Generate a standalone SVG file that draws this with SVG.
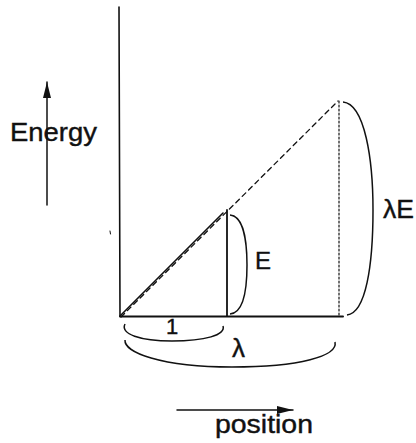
<svg xmlns="http://www.w3.org/2000/svg" width="416" height="443" viewBox="0 0 416 443">
<style>
.ln{stroke:#111;fill:none;stroke-linecap:round}
.br{stroke:#111;fill:none;stroke-width:1.5}
.t{font-family:"Liberation Sans",Arial,Helvetica,sans-serif;fill:#111;stroke:#111;stroke-width:0.4}
</style>
<defs>
<marker id="ah" viewBox="0 0 16 8" refX="16" refY="4" markerWidth="16" markerHeight="8" markerUnits="userSpaceOnUse" orient="auto">
<path d="M0,0 L16,4 L0,8 Z" fill="#111"/>
</marker>
</defs>
<rect width="416" height="443" fill="#fff"/>
<g id="connectors">
<line id="y-axis" class="ln" x1="119" y1="7" x2="120" y2="316" stroke-width="1.6"/>
<line id="x-axis" class="ln" x1="120" y1="316.5" x2="343" y2="316.5" stroke-width="2"/>
<line id="diag-solid" class="ln" x1="120" y1="316" x2="223" y2="213" stroke-width="1.6"/>
<line id="diag-dashed" class="ln" x1="121" y1="317" x2="338" y2="101" stroke-width="1.3" stroke-dasharray="5,4"/>
<line id="v-solid" class="ln" x1="227" y1="210" x2="227" y2="316" stroke-width="1.8"/>
<line id="v-dotted" class="ln" x1="339" y1="101" x2="339" y2="316" stroke-width="1.2" stroke-dasharray="2,2"/>
<line id="energy-arrow" class="ln" x1="47" y1="205" x2="47" y2="82" stroke-width="1.5" marker-end="url(#ah)"/>
<line id="position-arrow" class="ln" x1="177" y1="410" x2="293" y2="410" stroke-width="1.5" marker-end="url(#ah)"/>
<line id="stray" class="ln" x1="110" y1="231" x2="110.5" y2="234" stroke-width="1"/>
</g>
<g id="bracket-E">
<path class="br" d="M230,215 C243,216 247,240 247,265 C247,292 243,313 230,314"/>
<text class="t" x="255" y="269" font-size="24">E</text>
</g>
<g id="bracket-lambdaE">
<path class="br" d="M343,102 C365,104 373,160 373,210 C373,265 366,313 347,315"/>
<text class="t" x="383" y="218" font-size="26" textLength="31" lengthAdjust="spacingAndGlyphs">λE</text>
</g>
<g id="bracket-1">
<path class="br" d="M125,324 C120,334 140,341 172,341 C205,341 226,335 223,326"/>
<text class="t" x="166" y="334" font-size="22">1</text>
</g>
<g id="bracket-lambda">
<path class="br" d="M125,340 C124,352 160,367 232,367 C300,367 338,356 335,342"/>
<text class="t" x="232" y="357" font-size="26">λ</text>
</g>
<g id="label-energy">
<text class="t" x="10" y="141" font-size="26" textLength="87" lengthAdjust="spacingAndGlyphs">Energy</text>
</g>
<g id="label-position">
<text class="t" x="215" y="433" font-size="26" textLength="98" lengthAdjust="spacingAndGlyphs">position</text>
</g>
</svg>
